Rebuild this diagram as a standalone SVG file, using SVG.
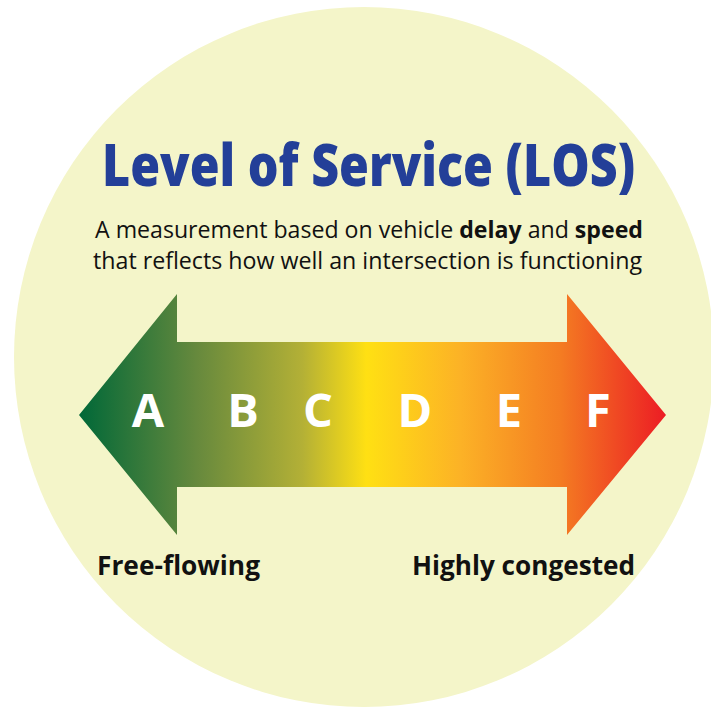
<svg xmlns="http://www.w3.org/2000/svg" width="711" height="708" viewBox="0 0 711 708">
<defs>
<linearGradient id="grad" gradientUnits="userSpaceOnUse" x1="79" y1="0" x2="666" y2="0">
<stop offset="0" stop-color="#006838"/>
<stop offset="0.2" stop-color="#66893d"/>
<stop offset="0.38" stop-color="#b3b036"/>
<stop offset="0.49" stop-color="#ffe013"/>
<stop offset="0.65" stop-color="#fcb226"/>
<stop offset="0.82" stop-color="#f47c22"/>
<stop offset="1" stop-color="#ec1c24"/>
</linearGradient>
<style>
.t{font-family:"Open Sans","Liberation Sans",sans-serif}
.title{font-weight:800;fill:#233f98;font-size:58px}
.sub{font-size:23px;fill:#111}
.lab{font-weight:bold;font-size:26px;fill:#111}
.let{font-weight:bold;font-size:47px;fill:#ffffff;text-anchor:middle}
</style>
</defs>
<circle id="bg" cx="364" cy="357" r="350" fill="#f4f5c9"/>
<g id="title">
<text class="t title" x="102" y="186" textLength="533" lengthAdjust="spacingAndGlyphs">Level of Service (LOS)</text>
</g>
<g id="subtitle">
<text class="t sub" x="95" y="238" textLength="548" lengthAdjust="spacingAndGlyphs">A measurement based on vehicle <tspan font-weight="bold">delay</tspan> and <tspan font-weight="bold">speed</tspan></text>
<text class="t sub" x="93" y="269" textLength="549" lengthAdjust="spacingAndGlyphs">that reflects how well an intersection is functioning</text>
</g>
<g id="arrow">
<polygon points="79,415 177,294 177,342 567,342 567,294 666,415 567,535 567,487 177,487 177,535" fill="url(#grad)"/>
</g>
<g id="letters">
<text class="t let" x="148" y="427">A</text>
<text class="t let" x="243" y="427">B</text>
<text class="t let" x="318" y="427">C</text>
<text class="t let" x="415" y="427">D</text>
<text class="t let" x="509" y="427">E</text>
<text class="t let" x="598" y="427">F</text>
</g>
<g id="labels">
<text class="t lab" x="97" y="575" textLength="163" lengthAdjust="spacingAndGlyphs">Free-flowing</text>
<text class="t lab" x="412" y="575" textLength="223" lengthAdjust="spacingAndGlyphs">Highly congested</text>
</g>
</svg>
